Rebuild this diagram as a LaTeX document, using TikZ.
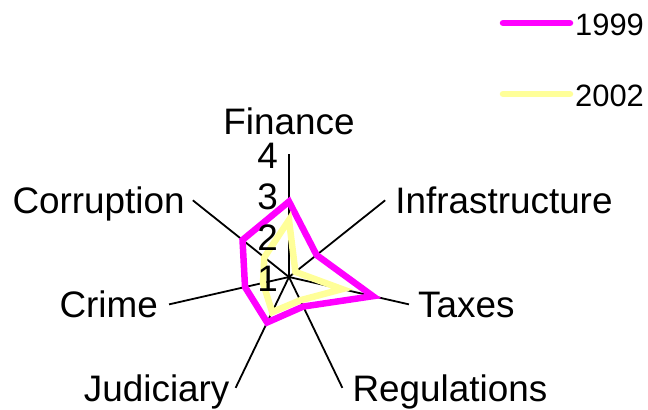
\documentclass[tikz,border=0pt]{standalone}
\usepackage{fontspec}
\setmainfont{Liberation Sans}
\usetikzlibrary{positioning,calc}
\definecolor{yrone}{RGB}{255,0,255}
\definecolor{yrtwo}{RGB}{255,255,153}

\begin{document}
\begin{tikzpicture}[
  x=1bp, y=1bp,
  every node/.style={inner sep=0pt},
  cat/.style={font=\fontsize{37}{40}\selectfont, text height=27bp, text depth=0pt},
  tick/.style={font=\fontsize{37}{40}\selectfont, yshift=-2bp},
  keytext/.style={font=\fontsize{31}{34}\selectfont, yshift=-2bp},
  axis/.style={line width=1.8bp},
  series/.style={line width=6.5bp, line join=miter},
  keyline/.style={line width=6.5bp, line cap=round}
]
\useasboundingbox (-289,-132) rectangle (359,277);
\coordinate (o) at (0,0);

% spokes
\foreach \i in {0,...,6}
  \coordinate (end\i) at ({90-\i*360/7}:123);
\foreach \i in {0,...,6}
  \draw[axis] (o) -- (end\i);

% 1999 and 2002
\foreach \v [count=\i from 0] in {2.84,1.86,3.1,1.8,2.23,2.1,2.45}
  \coordinate (a\i) at ({90-\i*360/7}:{(\v-1)*41});
\foreach \v [count=\i from 0] in {2.39,1.2,2.33,1.63,1.95,1.65,1.77}
  \coordinate (b\i) at ({90-\i*360/7}:{(\v-1)*41});
\draw[series, yrone] (a0) -- (a1) -- (a2) -- (a3) -- (a4) -- (a5) -- (a6) -- cycle;
\draw[series, yrtwo] (b0) -- (b1) -- (b2) -- (b3) -- (b4) -- (b5) -- (b6) -- cycle;

% scale
\foreach \v in {1,...,4} {
  \coordinate (t\v) at (0,{(\v-1)*41});
  \node[tick, left=11bp of t\v] (l\v) {\v};
}

% categories
\node[cat, above=19bp of end0] (fin) {Finance};
\node[cat, right=10bp of end1] (infra) {Infrastructure};
\node[cat, right=9bp of end2] (tax) {Taxes};
\node[cat, right=10bp of end3] (reg) {Regulations};
\node[cat, left=6bp of end4] (jud) {Judiciary};
\node[cat, left=11bp of end5] (crime) {Crime};
\node[cat, left=8bp of end6] (corr) {Corruption};

% legend
\coordinate (k1a) at (214,254);
\coordinate (k1b) at (281,254);
\draw[keyline, yrone] (k1a) -- (k1b);
\node[keytext, right=5bp of k1b] (k1t) {1999};
\coordinate (k2a) at (214,183);
\coordinate (k2b) at (281,183);
\draw[keyline, yrtwo] (k2a) -- (k2b);
\node[keytext, right=5bp of k2b] (k2t) {2002};
\end{tikzpicture}
\end{document}
